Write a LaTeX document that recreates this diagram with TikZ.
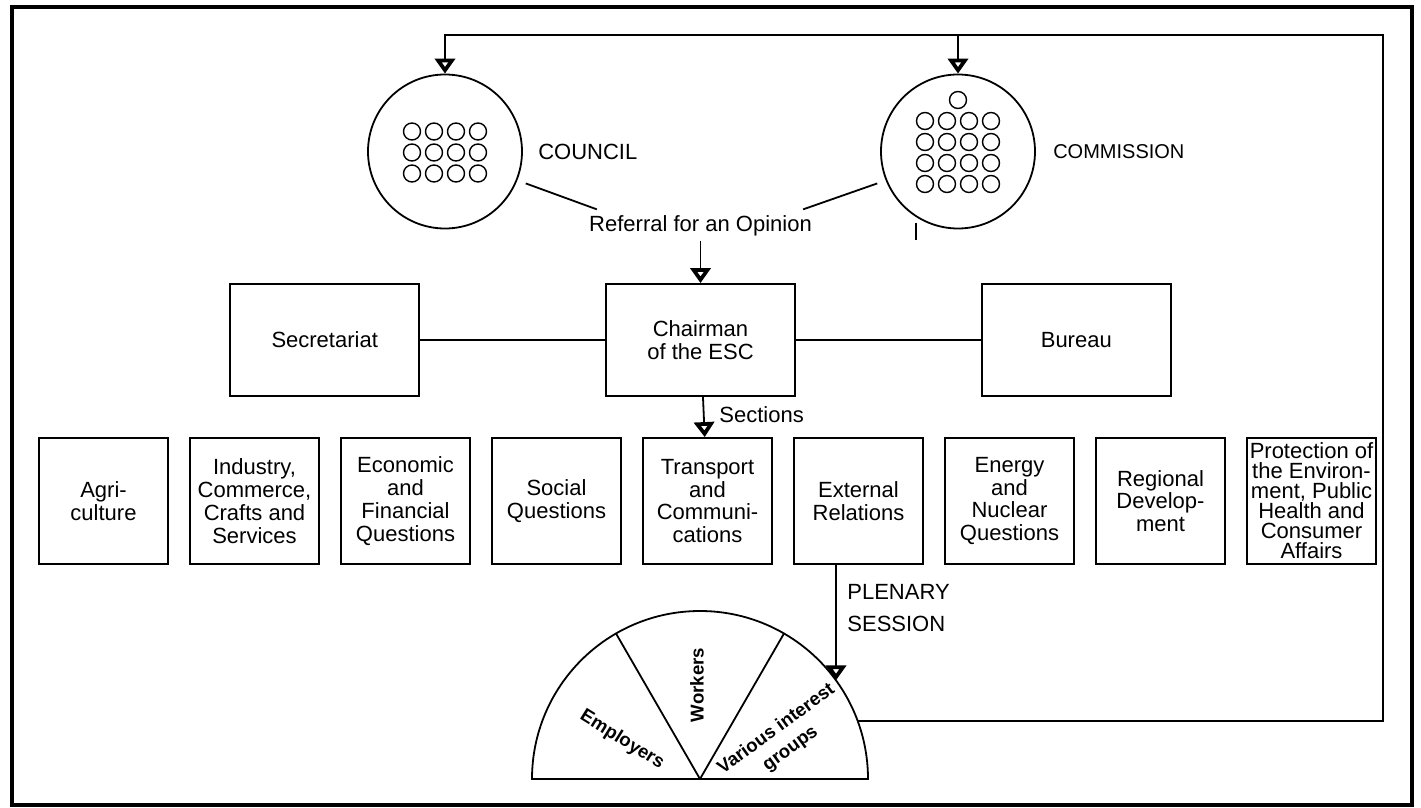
\documentclass[tikz,border=0pt]{standalone}
\usepackage{fontspec}
\setmainfont{Liberation Sans}
\usetikzlibrary{arrows.meta, positioning, calc}

\begin{document}
\begin{tikzpicture}[
    x=0.5pt, y=-0.5pt,
    font=\fontsize{11}{11.4}\selectfont,
    node distance=10.1pt,
    block/.style={draw, line width=0.9pt, minimum width=94.5pt, minimum height=56pt, align=center, inner sep=1pt},
    section/.style={draw, line width=0.9pt, minimum width=64.5pt, minimum height=63pt, align=center, inner sep=1pt},
    body/.style={draw, circle, line width=0.9pt, minimum size=77pt, inner sep=0pt},
    seat/.style={line width=0.7pt},
    group/.style={font=\fontsize{9.3}{12}\selectfont\bfseries, align=center},
    link/.style={line width=0.9pt},
    arrow/.style={link, -{Triangle[open, length=7.5pt, width=10pt, line width=2.4pt]}}
]
\useasboundingbox (0,0) rectangle (1421,808);

% Frame
\draw[line width=1.6pt] (12,7) rectangle (1412,805);

% Council and Commission
\node[body] (council) at (445,151.5) {};
\node[body] (commission) at (958,151.5) {};
\node[right=7.5pt of council, inner sep=0pt] (councillbl) {COUNCIL};
\node[right=8.5pt of commission, inner sep=0pt, font=\fontsize{10}{12}\selectfont] (commissionlbl) {COMMISSION};

% Members
\foreach \i in {0,...,3}
  \foreach \j in {0,...,2}
    \draw[seat] ($(council)+(-33+22*\i,-20+21*\j)$) circle[radius=4.25pt];
\foreach \i in {0,...,3}
  \foreach \j in {0,...,3}
    \draw[seat] ($(commission)+(-33+22*\i,-30.5+21*\j)$) circle[radius=4.25pt];
\draw[seat] ($(commission)+(0,-51.5)$) circle[radius=4.25pt];

% Referral
\node[inner sep=2pt] (referral) at (700.5,226) {Referral for an Opinion};
\draw[link] ($(council.-21)+(8,4)$) -- ($(referral.north west)+(12,-2)$);
\draw[link] ($(commission.201)+(-8,4)$) -- ($(referral.north east)+(-13,-2)$);
\draw[link] (916,223) -- (916,240);

% Chairman row
\node[block] (chair) at (700.5,340) {Chairman\\of the ESC};
\node[block, left=92.5pt of chair] (secretariat) {Secretariat};
\node[block, right=92.5pt of chair] (bureau) {Bureau};

\draw[arrow] (referral) -- (chair);
\draw[link] (secretariat) -- (chair);
\draw[link] (chair) -- (bureau);

% Sections
\node[section] (agri) at (103.5,501) {Agri-\\culture};
\node[section, right=of agri] (industry) {Industry,\\Commerce,\\Crafts and\\Services};
\node[section, right=of industry] (economic) {Economic\\and\\Financial\\Questions};
\node[section, right=of economic] (social) {Social\\Questions};
\node[section, right=of social] (transport) {Transport\\and\\Communi-\\cations};
\node[section, right=of transport] (external) {External\\Relations};
\node[section, right=of external] (energy) {Energy\\and\\Nuclear\\Questions};
\node[section, right=of energy] (regional) {Regional\\Develop-\\ment};
\node[section, right=of regional, font=\fontsize{11}{10}\selectfont] (environment) {Protection of\\the Environ-\\ment, Public\\Health and\\Consumer\\Affairs};

\draw[arrow] (chair) -- (transport);
\node[anchor=west, inner sep=0pt] (sectionslbl) at (719,415) {Sections};

% Plenary session
\coordinate (hemi) at (700,779);
\draw[link] ($(hemi)+(-168,0)$) arc[start angle=180, end angle=0, radius=84pt] -- cycle;
\draw[link] (hemi) -- ++(120:84pt);
\draw[link] (hemi) -- ++(60:84pt);
\node[group, rotate=-32] (employers) at (622,740) {Employers};
\node[group, rotate=90] (workers) at (697,685) {Workers};
\node[group, rotate=36] (interest) at (783.5,739) {Various interest\\groups};

\coordinate (plenin) at ($(hemi)+(136,-98.6)$);
\draw[arrow] (external.south -| plenin) -- (plenin);
\node[anchor=west, align=left, inner sep=0pt] (plenarylbl) at (847,608) {PLENARY\\[5pt]SESSION};

% Back to Council and Commission
\coordinate (hout) at ($(hemi)+(157.7,-58)$);
\coordinate (fb) at (1383,35);
\draw[arrow] (hout) -| (fb) -| (council.north);
\draw[arrow] (commission.north |- fb) -- (commission.north);
\end{tikzpicture}
\end{document}
